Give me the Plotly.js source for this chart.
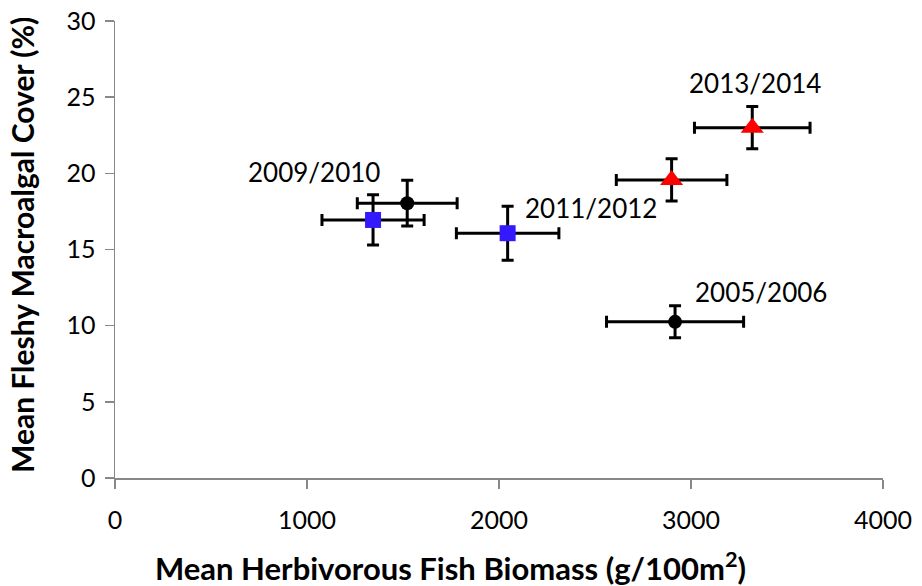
<!DOCTYPE html>
<html>
<head>
<meta charset="utf-8">
<script src="https://cdn.plot.ly/plotly-3.0.1.min.js"></script>
<style>html,body{margin:0;padding:0;background:#fff;}#chart{width:922px;height:586px;}</style>
</head>
<body>
<div id="chart"></div>
<script>
// Black circles
const blackX = [2917, 1522];
const blackY = [10.25, 18.04];
const blackXErr = [357, 260];
const blackYErr = [1.05, 1.5];
// Blue squares
const blueX = [1344, 2045];
const blueY = [16.94, 16.07];
const blueXErr = [266, 267];
const blueYErr = [1.65, 1.77];
// Red triangles
const redX = [2899, 3319];
const redY = [19.57, 23.0];
const redXErr = [288, 301];
const redYErr = [1.38, 1.39];
// Period labels
const labelText = ['2005/2006', '2009/2010', '2011/2012', '2013/2014'];
const labelX = [3365, 1036, 2477, 3333];
const labelY = [12.2, 20.1, 17.7, 25.9];

const xTickVals = [0, 1000, 2000, 3000, 4000];
const yTickVals = [0, 5, 10, 15, 20, 25, 30];
const xTitle = 'Mean Herbivorous Fish Biomass (g/100m<sup>2</sup>)';
const yTitle = 'Mean Fleshy Macroalgal Cover (%)';

const FONT = 'Lato, "Open Sans", sans-serif';

function errBar(arr) {
  return {type: 'data', array: arr, visible: true, color: '#000', thickness: 3, width: 6};
}

const traces = [
  {x: blueX, y: blueY, mode: 'markers', type: 'scatter',
   marker: {symbol: 'square', size: 16, color: '#3419FF'},
   error_x: errBar(blueXErr), error_y: errBar(blueYErr), showlegend: false},
  {x: blackX, y: blackY, mode: 'markers', type: 'scatter',
   marker: {symbol: 'circle', size: 14, color: '#000'},
   error_x: errBar(blackXErr), error_y: errBar(blackYErr), showlegend: false},
  {x: redX, y: redY, mode: 'markers', type: 'scatter',
   marker: {symbol: 'triangle-up', size: 20, color: '#FF0000'},
   error_x: errBar(redXErr), error_y: errBar(redYErr), showlegend: false}
];

const annotations = labelText.map((t, i) => ({
  x: labelX[i], y: labelY[i], xref: 'x', yref: 'y', text: t, showarrow: false,
  font: {family: FONT, size: 26, color: '#000'}
}));
annotations.push({
  xref: 'paper', yref: 'paper', x: (450 - 115) / 768, y: -(566 - 478) / 457,
  xanchor: 'center', yanchor: 'middle', showarrow: false, text: '<b>' + xTitle + '</b>',
  font: {family: FONT, size: 31, color: '#000'}
});
annotations.push({
  xref: 'paper', yref: 'paper', x: -(115 - 22) / 768, y: (478 - 245) / 457,
  xanchor: 'center', yanchor: 'middle', showarrow: false, textangle: -90, text: '<b>' + yTitle + '</b>',
  font: {family: FONT, size: 30, color: '#000'}
});

const axisCommon = {
  showgrid: false, zeroline: false, showline: true, linecolor: '#888', linewidth: 1.5,
  ticks: 'outside', ticklen: 9, tickwidth: 1.5, tickcolor: '#888',
  tickfont: {family: FONT, size: 25, color: '#000'}
};

const layout = {
  width: 922, height: 586,
  margin: {l: 115, r: 39, t: 21, b: 108},
  paper_bgcolor: '#fff', plot_bgcolor: '#fff',
  xaxis: Object.assign({}, axisCommon, {
    range: [0, 4000], tickvals: xTickVals, ticktext: xTickVals.map(String), ticklabelstandoff: 10
  }),
  yaxis: Object.assign({}, axisCommon, {
    range: [0, 30], tickvals: yTickVals, ticktext: yTickVals.map(String), ticklabelstandoff: 4
  }),
  annotations: annotations
};

Plotly.newPlot('chart', traces, layout, {displayModeBar: false, staticPlot: true});
</script>
</body>
</html>
